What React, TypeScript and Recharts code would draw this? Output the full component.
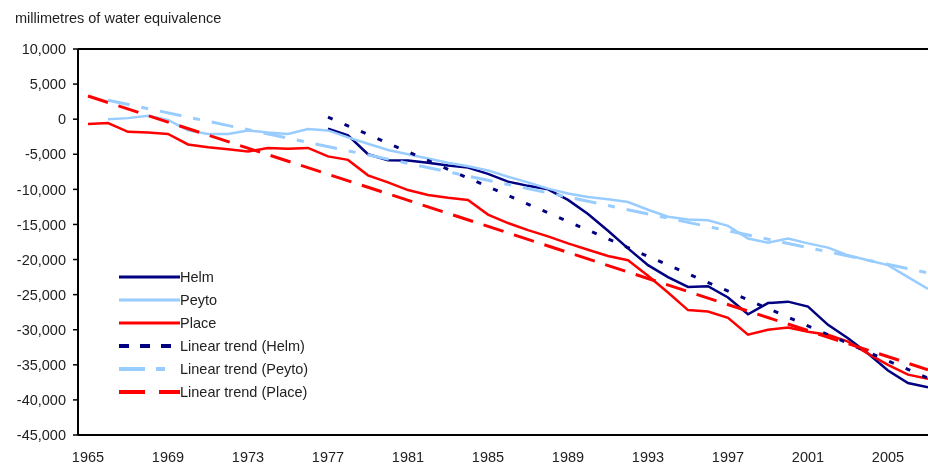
import React from "react";
import { LineChart, Line, XAxis, YAxis, ReferenceLine } from "recharts";

const YEARS = [
  1965, 1966, 1967, 1968, 1969, 1970, 1971, 1972, 1973, 1974,
  1975, 1976, 1977, 1978, 1979, 1980, 1981, 1982, 1983, 1984,
  1985, 1986, 1987, 1988, 1989, 1990, 1991, 1992, 1993, 1994,
  1995, 1996, 1997, 1998, 1999, 2000, 2001, 2002, 2003, 2004,
  2005, 2006, 2007,
];

// cumulative mass balance, mm of water equivalence
const HELM = [
  null, null, null, null, null, null, null, null, null, null,
  null, null, -1350, -2300, -5000, -5850, -5900, -6200, -6600, -6900,
  -7800, -8900, -9500, -10000, -11500, -13500, -15900, -18400, -20800, -22500,
  -23900, -23800, -25400, -27800, -26200, -26000, -26700, -29300, -31200, -33400,
  -35800, -37600, -38200,
];
const PEYTO = [
  null, 0, 150, 500, -100, -1600, -2100, -2100, -1600, -1900,
  -2100, -1400, -1600, -2600, -3500, -4400, -5000, -5600, -6200, -6700,
  -7300, -8200, -9000, -9900, -10600, -11100, -11400, -11800, -12900, -13900,
  -14300, -14400, -15200, -17000, -17600, -17000, -17700, -18300, -19400, -20100,
  -20800, -22500, -24200,
];
const PLACE = [
  -700, -550, -1800, -1900, -2100, -3600, -4000, -4300, -4600, -4100,
  -4200, -4100, -5300, -5800, -8000, -9000, -10100, -10800, -11200, -11500,
  -13600, -14800, -15800, -16700, -17700, -18600, -19500, -20100, -22300, -24700,
  -27200, -27400, -28300, -30700, -30000, -29700, -30300, -30700, -31700, -33400,
  -35000, -36400, -37000,
];

// linear trend end points [year, value]
const HELM_TREND = [[1977, 300], [2007, -36900]];
const PEYTO_TREND = [[1966, 2700], [2007, -21900]];
const PLACE_TREND = [[1965, 3300], [2007, -35700]];

const Y_TICKS = [10000, 5000, 0, -5000, -10000, -15000, -20000, -25000, -30000, -35000, -40000, -45000];
const X_LABELS = [1965, 1969, 1973, 1977, 1981, 1985, 1989, 1993, 1997, 2001, 2005];

const NAVY = "#000080";
const LIGHT = "#99CCFF";
const RED = "#FF0000";
const FONT = "'Liberation Sans', Arial, sans-serif";
const TEXT = "#222";

const trendAt = (pts: number[][], year: number) => {
  const p = pts.find((d) => d[0] === year);
  return p ? p[1] : null;
};

const data = YEARS.map((year, i) => ({
  year,
  helm: HELM[i],
  peyto: PEYTO[i],
  place: PLACE[i],
  helmTrend: trendAt(HELM_TREND, year),
  peytoTrend: trendAt(PEYTO_TREND, year),
  placeTrend: trendAt(PLACE_TREND, year),
}));

const minorTicks = YEARS.map((y) => y + 0.5);

const LEGEND = [
  { name: "Helm", color: NAVY, dash: undefined, width: 3 },
  { name: "Peyto", color: LIGHT, dash: undefined, width: 3 },
  { name: "Place", color: RED, dash: undefined, width: 3 },
  { name: "Linear trend (Helm)", color: NAVY, dash: "10 11", width: 4 },
  { name: "Linear trend (Peyto)", color: LIGHT, dash: "26 11 9 20", width: 4 },
  { name: "Linear trend (Place)", color: RED, dash: "26 14 21", width: 4 },
];

const fmt = (v: number) => v.toLocaleString("en-US");

export default function App() {
  return (
    <div
      style={{
        position: "fixed",
        left: 8,
        top: 8,
        width: 920,
        height: 457,
        overflow: "hidden",
        fontFamily: FONT,
        color: TEXT,
      }}
    >
      <div style={{ position: "absolute", left: 7, top: 2, fontSize: 14.5, lineHeight: "16px" }}>
        millimetres of water equivalence
      </div>
      <LineChart width={940} height={457} data={data} margin={{ top: 41, right: 10, left: 0, bottom: 0 }}>
        <XAxis
          xAxisId="minor"
          dataKey="year"
          type="number"
          domain={[1964.5, 2007.5]}
          ticks={minorTicks}
          interval={0}
          tick={false}
          axisLine={false}
          tickLine={{ stroke: "#000", strokeWidth: 1.5 }}
          tickSize={4}
          mirror
          height={0}
        />
        <XAxis
          dataKey="year"
          type="number"
          domain={[1964.5, 2007.5]}
          ticks={X_LABELS}
          interval={0}
          tickLine={false}
          tickSize={6}
          tickMargin={11}
          axisLine={{ stroke: "#000", strokeWidth: 2 }}
          tick={{ fill: TEXT, fontSize: 14.5, fontFamily: FONT }}
          height={30}
        />
        <YAxis
          type="number"
          domain={[-45000, 10000]}
          ticks={Y_TICKS}
          interval={0}
          tickFormatter={fmt}
          width={70}
          tickSize={5}
          tickMargin={7}
          axisLine={{ stroke: "#000", strokeWidth: 2 }}
          tickLine={{ stroke: "#000", strokeWidth: 1.5 }}
          tick={{ fill: TEXT, fontSize: 14.5, fontFamily: FONT }}
        />
        <ReferenceLine y={10000} stroke="#000" strokeWidth={2} />
        <Line dataKey="helm" stroke={NAVY} strokeWidth={2.5} dot={false} isAnimationActive={false} />
        <Line dataKey="peyto" stroke={LIGHT} strokeWidth={2.5} dot={false} isAnimationActive={false} />
        <Line dataKey="place" stroke={RED} strokeWidth={2.5} dot={false} isAnimationActive={false} />
        <Line dataKey="helmTrend" stroke={NAVY} strokeWidth={3} strokeDasharray="5 13" connectNulls dot={false} isAnimationActive={false} />
        <Line dataKey="peytoTrend" stroke={LIGHT} strokeWidth={3} strokeDasharray="22 12 7 12" connectNulls dot={false} isAnimationActive={false} />
        <Line dataKey="placeTrend" stroke={RED} strokeWidth={3} strokeDasharray="21 11" connectNulls dot={false} isAnimationActive={false} />
      </LineChart>
      <div style={{ position: "absolute", left: 111, top: 257, fontSize: 14.5 }}>
        {LEGEND.map((l) => (
          <div key={l.name} style={{ display: "flex", alignItems: "center", height: 23 }}>
            <svg width={61} height={8} style={{ display: "block" }}>
              <line x1={0} y1={4} x2={61} y2={4} stroke={l.color} strokeWidth={l.width} strokeDasharray={l.dash} />
            </svg>
            <span>{l.name}</span>
          </div>
        ))}
      </div>
    </div>
  );
}
